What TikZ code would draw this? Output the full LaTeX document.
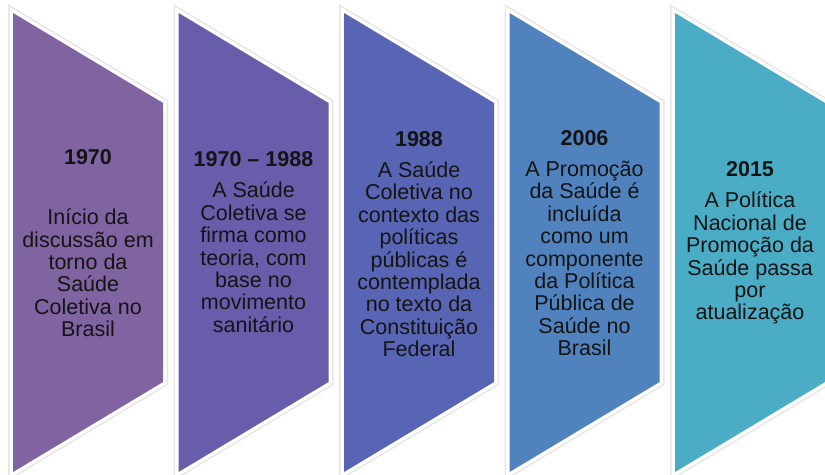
\documentclass[tikz,border=0pt]{standalone}
\usepackage{fontspec}
\setmainfont{Liberation Sans}
\definecolor{cA}{HTML}{8064A2}
\definecolor{cB}{HTML}{675DAA}
\definecolor{cC}{HTML}{5865B4}
\definecolor{cD}{HTML}{5083BE}
\definecolor{cE}{HTML}{4BACC6}
\begin{document}
\begin{tikzpicture}[x=1bp,y=-1bp,
  shadowline/.style={draw=black!10,line width=10bp,line join=miter},
  whiteline/.style={draw=white,line width=7bp,line join=miter},
  txt/.style={align=center,inner sep=0pt,text=black!92,
    font=\fontsize{21.5bp}{22.4bp}\selectfont}]
\useasboundingbox (0,0) rectangle (825,475);
\foreach \i/\c in {0/cA,1/cB,2/cC,3/cD,4/cE}{
  \begin{scope}[xshift=\i*165.5bp]
    \path[shadowline] (13,13) -- (163,103) -- (163,382) -- (13,472) -- cycle;
    \path[whiteline] (13,13) -- (163,103) -- (163,382) -- (13,472) -- cycle;
    \path[fill=\c] (13,13) -- (163,103) -- (163,382) -- (13,472) -- cycle;
  \end{scope}
}
\node[txt] (t1) at (88,243) {\textbf{1970}\\[38bp]Início da\\discussão em\\torno da\\Saúde\\Coletiva no\\Brasil};
\node[txt] (t2) at (253.5,242) {\textbf{1970 – 1988}\\[9bp]A Saúde\\Coletiva se\\firma como\\teoria, com\\base no\\movimento\\sanitário};
\node[txt] (t3) at (419,244) {\textbf{1988}\\[9bp]A Saúde\\Coletiva no\\contexto das\\políticas\\públicas é\\contemplada\\no texto da\\Constituição\\Federal};
\node[txt] (t4) at (584.5,243) {\textbf{2006}\\[9bp]A Promoção\\da Saúde é\\incluída\\como um\\componente\\da Política\\Pública de\\Saúde no\\Brasil};
\node[txt] (t5) at (750,243) {\textbf{2015}\\[9bp]A Política\\Nacional de\\Promoção da\\Saúde passa\\por\\atualização};
\end{tikzpicture}
\end{document}
